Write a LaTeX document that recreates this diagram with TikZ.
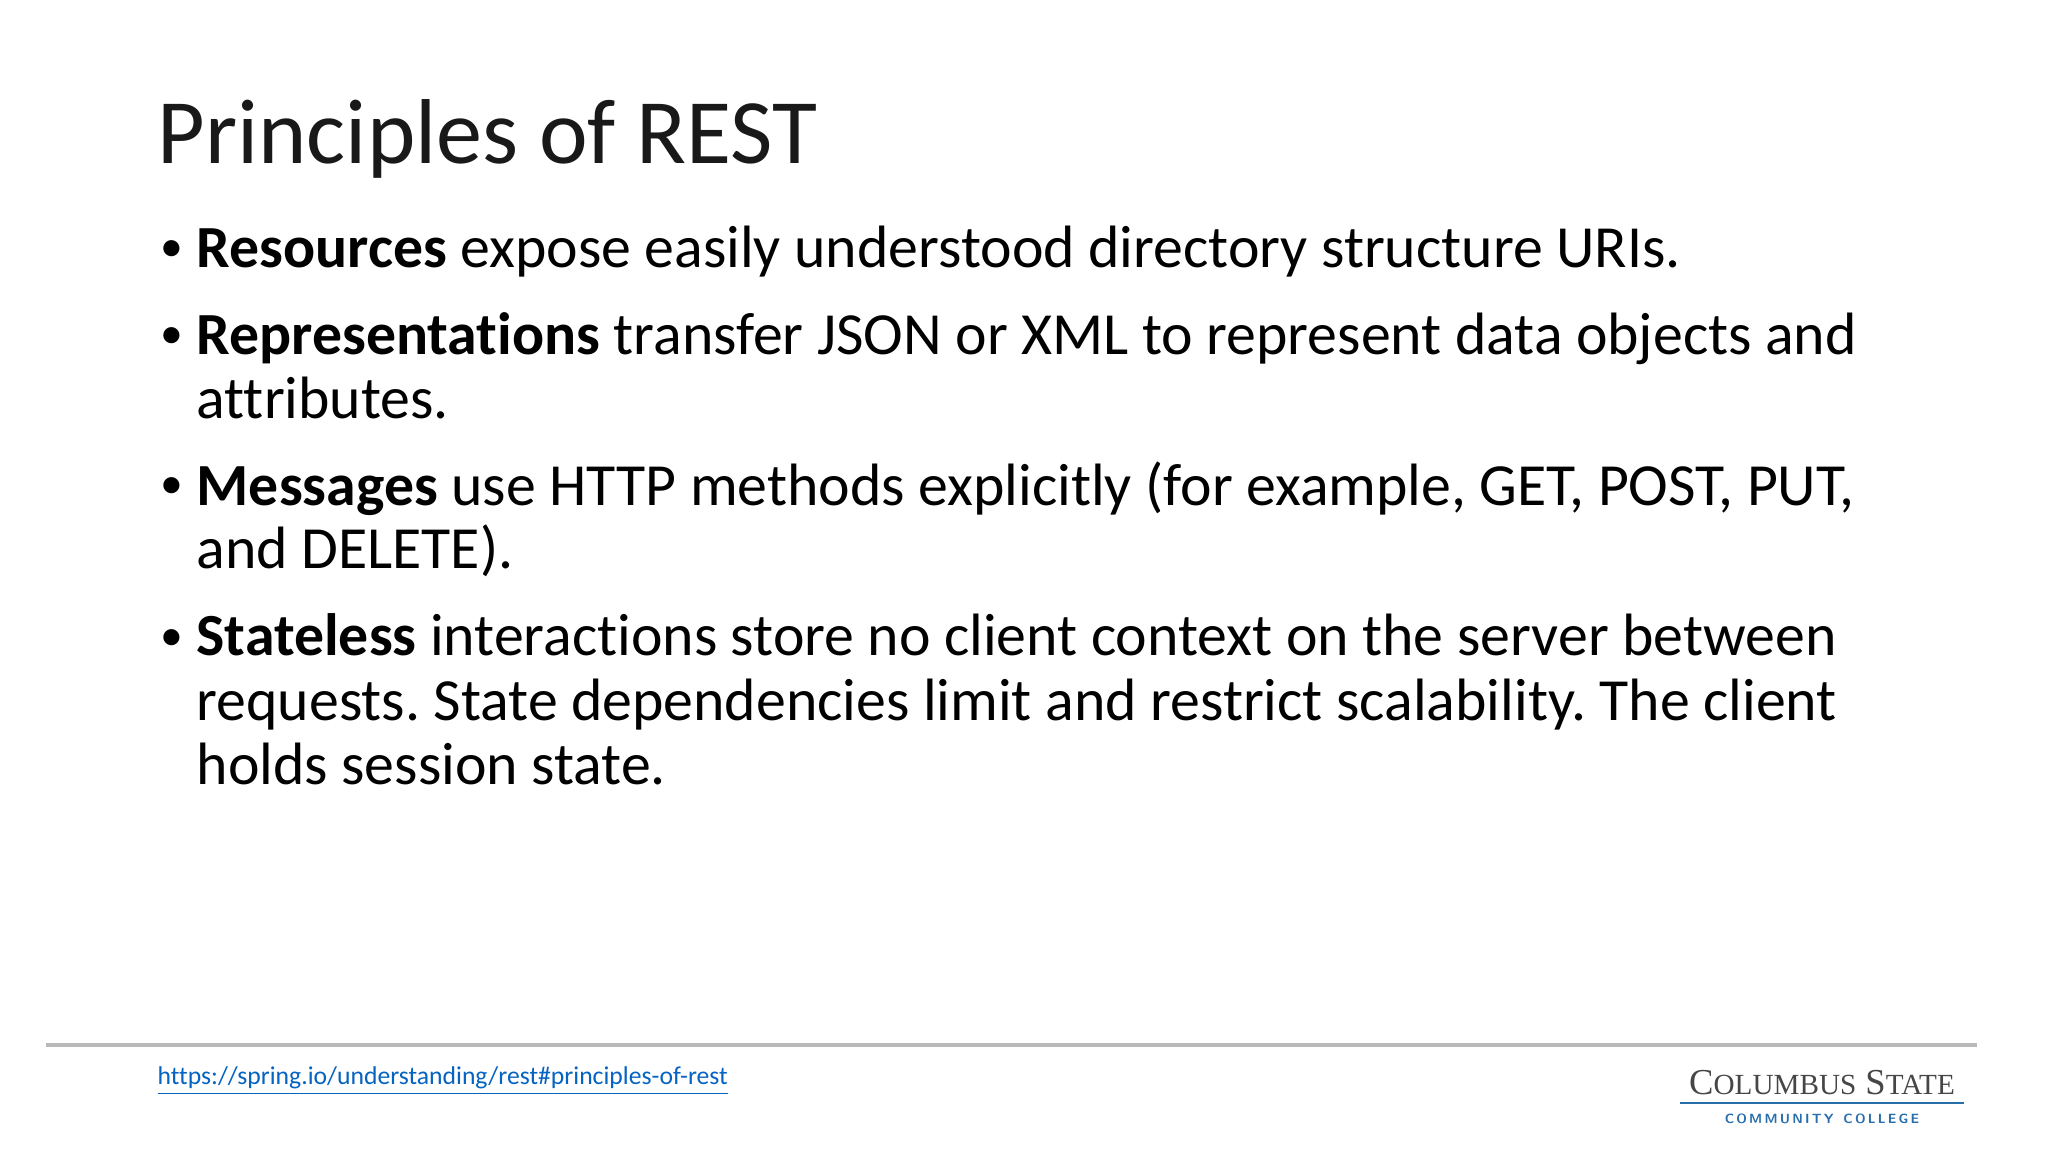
\documentclass[tikz,border=0pt]{standalone}
\usepackage{fontspec}
\setmainfont{Carlito}[RawFeature=-liga]
\newfontfamily\logofont{Liberation Serif}
\definecolor{urlblue}{RGB}{5,99,193}
\definecolor{logoblue}{RGB}{40,110,170}
\definecolor{logogray}{RGB}{70,70,70}
\frenchspacing
\begin{document}
\begin{tikzpicture}[x=0.01cm,y=-0.01cm,
  body/.style={anchor=base west,inner sep=0,font=\fontsize{17}{20}\selectfont},
  bul/.style={anchor=base west,inner sep=0,font=\fontsize{13}{15}\selectfont}]
\useasboundingbox (0,0) rectangle (2048,1152);
\fill[white] (0,0) rectangle (2048,1152);
\node[anchor=base west,inner sep=0,font=\fontsize{26.2}{30}\selectfont,text=black!90] (title) at (157,164) {Principles of REST};
\node[bul] (b1) at (160,262) {•};
\node[body] (l1) at (196,268) {\textbf{Resources} expose easily understood directory structure URIs.};
\node[bul] (b2) at (160,349) {•};
\node[body] (l2) at (196,355) {\textbf{Representations} transfer JSON or XML to represent data objects and};
\node[body] (l2b) at (196,419) {attributes.};
\node[bul] (b3) at (160,499) {•};
\node[body] (l3) at (196,505) {\textbf{Messages} use HTTP methods explicitly (for example, GET, POST, PUT,};
\node[body] (l3b) at (196,569) {and DELETE).};
\node[bul] (b4) at (160,650) {•};
\node[body] (l4) at (196,656) {\textbf{Stateless} interactions store no client context on the server between};
\node[body] (l4b) at (196,720) {requests. State dependencies limit and restrict scalability. The client};
\node[body] (l4c) at (196,784) {holds session state.};
\coordinate (s1) at (46,1045); \coordinate (s2) at (1977,1045);
\draw[gray!55,line width=1pt] (s1) -- (s2);
\node[anchor=base west,inner sep=0,text=urlblue,font=\fontsize{7.3}{9}\selectfont] (url) at (157,1084) {\underline{https://spring.io/understanding/rest\#principles-of-rest}};
\node[anchor=base,inner sep=0,text=logogray,font=\logofont\fontsize{10.4}{12}\selectfont] (logo) at (1822,1094) {C{\fontsize{8.3}{9}\selectfont OLUMBUS} S{\fontsize{8.3}{9}\selectfont TATE}};
\coordinate (u1) at (1680,1103); \coordinate (u2) at (1964,1103);
\draw[logoblue,line width=0.8pt] (u1) -- (u2);
\node[anchor=base,inner sep=0,text=logoblue,font=\sffamily\bfseries\fontsize{3.8}{5}\selectfont] (cc) at (1822,1123) {C\,O\,M\,M\,U\,N\,I\,T\,Y\ \ C\,O\,L\,L\,E\,G\,E};
\end{tikzpicture}
\end{document}
